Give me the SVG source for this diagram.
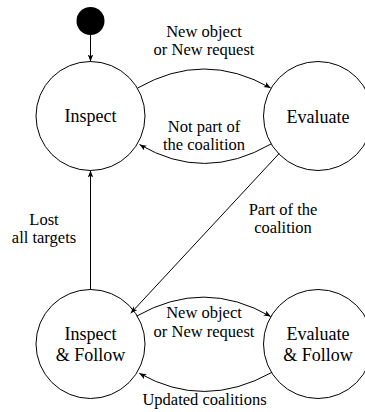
<svg xmlns="http://www.w3.org/2000/svg" width="365" height="412" viewBox="0 0 365 412">
<defs>
<marker id="arr" viewBox="0 0 10 8" refX="10" refY="4" markerWidth="7" markerHeight="5.6" markerUnits="userSpaceOnUse" orient="auto">
<path d="M0,0 L10,4 L0,8 L2.5,4 Z" fill="#000"/>
</marker>
</defs>
<style>
.node{fill:#fff;stroke:#000;stroke-width:1}
.nt{font-size:18px;text-anchor:middle;fill:#000}
.lt{font-size:16.5px;text-anchor:middle;fill:#000}
.edge{fill:none;stroke:#000;stroke-width:1;marker-end:url(#arr)}
</style>
<rect width="365" height="412" fill="#fff"/>
<g font-family="'Liberation Serif', Tinos, 'Times New Roman', Times, 'DejaVu Serif', serif">
<g id="start"><circle cx="90.5" cy="21" r="14" fill="#000"/></g>
<g id="inspect"><circle class="node" cx="90.5" cy="116" r="54.5"/><text class="nt" x="90.5" y="121.5">Inspect</text></g>
<g id="evaluate"><circle class="node" cx="318" cy="116" r="54.5"/><text class="nt" x="318" y="122.5">Evaluate</text></g>
<g id="inspect-follow"><circle class="node" cx="90.5" cy="344" r="54.5"/><text class="nt" x="90.5" y="339.5">Inspect</text><text class="nt" x="90.5" y="361">&amp; Follow</text></g>
<g id="evaluate-follow"><circle class="node" cx="318" cy="344" r="54.5"/><text class="nt" x="318" y="340">Evaluate</text><text class="nt" x="318" y="361">&amp; Follow</text></g>
<g id="connectors">
<path class="edge" d="M90.5,35 L90.5,61.5"/>
<path class="edge" d="M137.7,88 Q204,50 270.7,88"/>
<path class="edge" d="M271,144 Q204,182.6 139.5,144.5"/>
<path class="edge" d="M279.3,153.3 L130.7,313.3"/>
<path class="edge" d="M90.5,289.5 L90.5,170.5"/>
<path class="edge" d="M136.8,316 Q204,278 270.7,316.5"/>
<path class="edge" d="M271.7,372.5 Q204,410 139.3,373.3"/>
</g>
<g id="labels">
<text class="lt" x="204" y="36.7">New object</text>
<text class="lt" x="204" y="55">or New request</text>
<text class="lt" x="204" y="131.7">Not part of</text>
<text class="lt" x="204" y="150">the coalition</text>
<text class="lt" x="283" y="215">Part of the</text>
<text class="lt" x="283" y="233.3">coalition</text>
<text class="lt" x="44" y="225">Lost</text>
<text class="lt" x="44" y="243.3">all targets</text>
<text class="lt" x="204" y="317.7">New object</text>
<text class="lt" x="204" y="336.7">or New request</text>
<text class="lt" x="204.5" y="405">Updated coalitions</text>
</g>
</g>
</svg>
